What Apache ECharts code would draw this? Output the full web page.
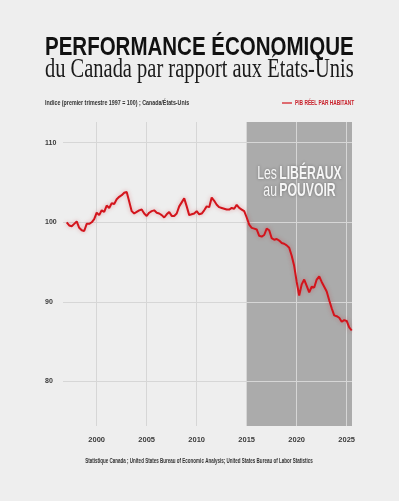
<!DOCTYPE html>
<html>
<head>
<meta charset="utf-8">
<script src="https://cdn.jsdelivr.net/npm/echarts@6.0.0/dist/echarts.min.js"></script>
<style>
  html, body { margin: 0; padding: 0; background: #eeeeee; }
  #chart { width: 399px; height: 501px; }
</style>
</head>
<body>
<div id="chart"></div>
<script>
// Indice trimestriel, 1997 T1 = 100 (Canada / États-Unis)
const startYear = 1997;
const pibValues = [
  100.0, 99.6, 99.5, 99.8, 100.1, 99.3, 99.0, 98.9, 99.8, 99.8,
  100.0, 100.4, 101.2, 100.9, 101.5, 101.3, 102.1, 101.8, 102.4, 102.3,
  102.9, 103.2, 103.4, 103.7, 103.8, 102.6, 101.4, 101.1, 101.3, 101.5,
  101.6, 101.1, 100.8, 101.2, 101.4, 101.5, 101.2, 101.1, 100.9, 100.6,
  101.0, 101.3, 100.8, 100.8, 101.1, 102.0, 102.5, 103.0, 102.0, 100.9,
  101.0, 101.1, 101.4, 101.0, 101.1, 101.5, 102.0, 101.9, 103.1, 102.7,
  102.2, 101.9, 101.8, 101.7, 101.6, 101.6, 101.8, 101.7, 102.2, 101.8,
  101.6, 101.4, 100.6, 99.7, 99.3, 99.2, 99.1, 98.3, 98.2, 98.4,
  99.2, 99.0, 98.0, 97.8, 97.9, 97.7, 97.4, 97.3, 97.1, 96.8,
  95.8, 94.5, 92.5, 90.8, 92.2, 92.8, 92.0, 91.2, 91.9, 91.8,
  92.8, 93.2, 92.5, 91.9, 91.3, 90.2, 89.2, 88.3, 88.2, 88.0,
  87.5, 87.7, 87.6, 86.8, 86.4
];
const yearTicks = [2000, 2005, 2010, 2015, 2020, 2025];
const valueTicks = [80, 90, 100, 110];
const liberalPeriod = [2015, 2025.53];

const seriesName = "PIB RÉEL PAR HABITANT";
const red = "#d3141c";
const sans = "Liberation Sans, sans-serif";

let points = [];
for (let i = 0; i < pibValues.length; i++) {
  points.push([startYear + i / 4, pibValues[i]]);
}

let chart = echarts.init(document.getElementById("chart"));
chart.setOption({
  backgroundColor: "#eeeeee",
  animation: false,
  grid: { left: 63, right: 47, top: 122, bottom: 75 },
  xAxis: {
    type: "value",
    min: 1996.63,
    max: 2025.53,
    z: 3,
    axisLine: { show: false },
    axisTick: { show: false, customValues: yearTicks },
    axisLabel: {
      customValues: yearTicks,
      margin: 10,
      color: "#3a3a3a",
      fontSize: 7.5,
      fontWeight: "bold",
      fontFamily: sans,
      formatter: function (v) { return String(v); }
    },
    splitLine: { show: true, lineStyle: { color: "#d6d6d6", width: 1 } }
  },
  yAxis: {
    type: "value",
    min: 74.4,
    max: 112.6,
    z: 3,
    axisLine: { show: false },
    axisTick: { show: false, customValues: valueTicks },
    axisLabel: {
      customValues: valueTicks,
      align: "left",
      margin: 18,
      color: "#3a3a3a",
      fontSize: 7,
      fontWeight: "bold",
      fontFamily: sans
    },
    splitLine: { show: true, lineStyle: { color: "#d6d6d6", width: 1 } }
  },
  series: [
    {
      name: seriesName,
      type: "line",
      data: points,
      z: 5,
      showSymbol: false,
      symbol: "none",
      itemStyle: { color: red },
      lineStyle: {
        color: red,
        width: 2,
        shadowBlur: 4,
        shadowColor: "rgba(210, 20, 28, 0.35)"
      },
      markArea: {
        silent: true,
        z: 1,
        itemStyle: { color: "#ababab" },
        data: [[{ xAxis: liberalPeriod[0] }, { xAxis: liberalPeriod[1] }]]
      }
    }
  ],
  graphic: [
    {
      type: "text", x: 45, y: 48, scaleX: 0.82, z: 10,
      style: {
        text: "PERFORMANCE ÉCONOMIQUE",
        fill: "#111",
        fontSize: 25,
        fontWeight: "bold",
        fontFamily: sans,
        verticalAlign: "middle"
      }
    },
    {
      type: "text", x: 45, y: 70, scaleX: 0.758, z: 10,
      style: {
        text: "du Canada par rapport aux États-Unis",
        fill: "#1a1a1a",
        fontSize: 27,
        fontFamily: "Liberation Serif, serif",
        verticalAlign: "middle"
      }
    },
    {
      type: "text", x: 45, y: 103, scaleX: 0.76, z: 10,
      style: {
        text: "Indice (premier trimestre 1997 = 100) ; Canada/États-Unis",
        fill: "#333",
        fontSize: 7,
        fontWeight: "bold",
        fontFamily: sans,
        verticalAlign: "middle"
      }
    },
    // légende
    {
      type: "line", z: 10,
      shape: { x1: 282, y1: 103, x2: 292, y2: 103 },
      style: { stroke: red, lineWidth: 1.2 }
    },
    {
      type: "text", x: 295, y: 103, scaleX: 0.69, z: 10,
      style: {
        text: seriesName,
        fill: "#c8202a",
        fontSize: 7,
        fontWeight: "bold",
        fontFamily: sans,
        verticalAlign: "middle"
      }
    },
    {
      type: "text", x: 299.5, y: 174, scaleX: 0.68, z: 10,
      style: {
        text: "{l|Les} {b|LIBÉRAUX}",
        align: "center",
        verticalAlign: "middle",
        textShadowBlur: 3,
        textShadowColor: "rgba(0,0,0,0.35)",
        rich: {
          l: { fill: "#f6f6f6", fontSize: 18, fontFamily: sans },
          b: { fill: "#f6f6f6", fontSize: 18, fontWeight: "bold", fontFamily: sans }
        }
      }
    },
    {
      type: "text", x: 299.5, y: 191.5, scaleX: 0.68, z: 10,
      style: {
        text: "{l|au} {b|POUVOIR}",
        align: "center",
        verticalAlign: "middle",
        textShadowBlur: 3,
        textShadowColor: "rgba(0,0,0,0.35)",
        rich: {
          l: { fill: "#f6f6f6", fontSize: 18, fontFamily: sans },
          b: { fill: "#f6f6f6", fontSize: 18, fontWeight: "bold", fontFamily: sans }
        }
      }
    },
    {
      type: "text", x: 199, y: 461, scaleX: 0.695, z: 10,
      style: {
        text: "Statistique Canada ; United States Bureau of Economic Analysis; United States Bureau of Labor Statistics",
        fill: "#333",
        fontSize: 6.5,
        fontWeight: "bold",
        fontFamily: sans,
        align: "center",
        verticalAlign: "middle"
      }
    }
  ]
});
</script>
</body>
</html>
